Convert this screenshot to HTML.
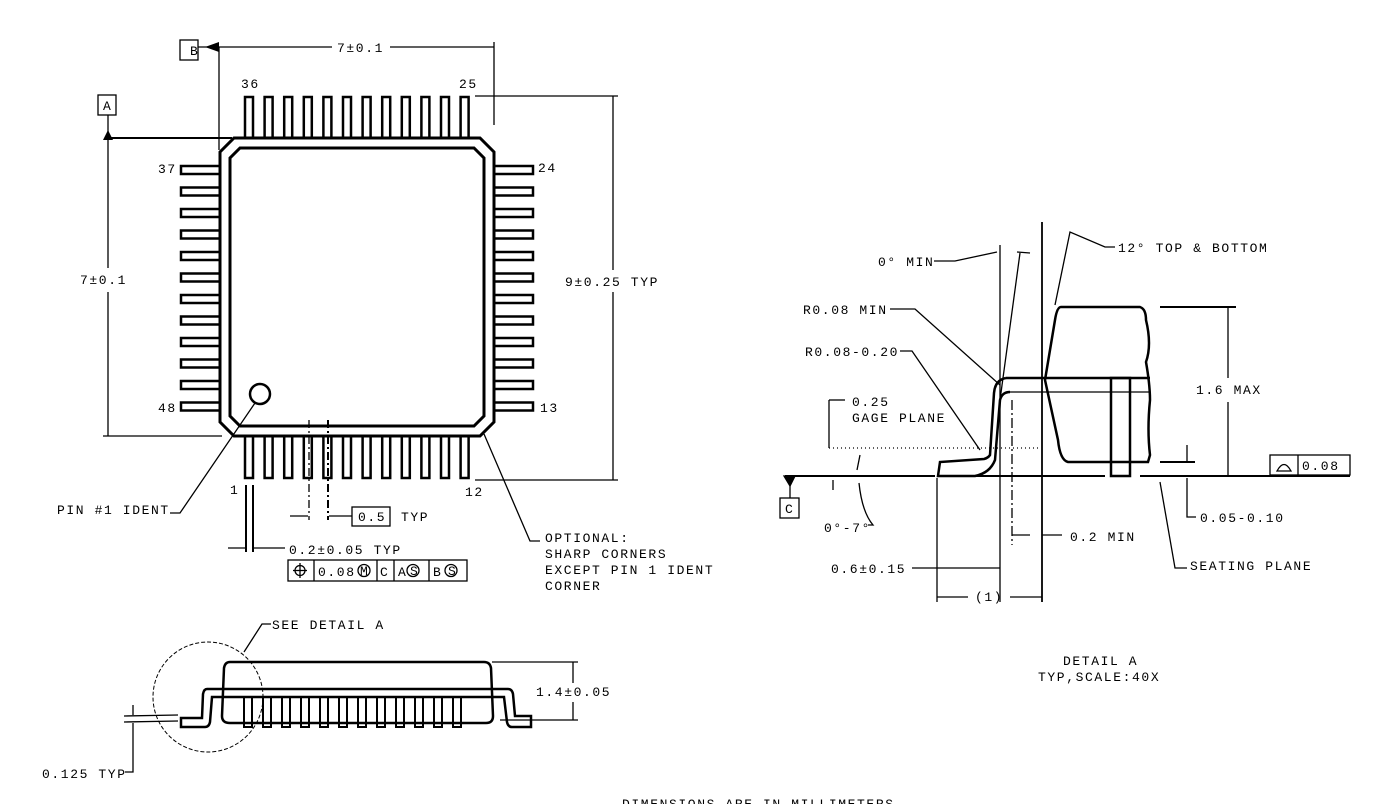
<!DOCTYPE html>
<html><head><meta charset="utf-8"><style>
html,body{margin:0;padding:0;background:#fff;}
svg{display:block}
text{font-family:"Liberation Mono",monospace;font-size:13px;letter-spacing:1.6px;fill:#000}
</style></head><body>
<svg width="1386" height="804" viewBox="0 0 1386 804" xmlns="http://www.w3.org/2000/svg">
<g fill="none" stroke="#000" stroke-width="1.3">
<path d="M234 138 L480 138 L494 152 L494 422 L480 436 L234 436 L220 422 L220 152 Z" stroke-width="3"/>
<path d="M240 148 L474 148 L484 158 L484 416 L474 426 L240 426 L230 416 L230 158 Z" stroke-width="3"/>
<circle cx="260" cy="394" r="10" stroke-width="2.5"/>
<g stroke-width="2.5">
<rect x="245" y="97" width="8" height="41"/><rect x="264.6" y="97" width="8" height="41"/><rect x="284.2" y="97" width="8" height="41"/><rect x="303.8" y="97" width="8" height="41"/><rect x="323.4" y="97" width="8" height="41"/><rect x="343" y="97" width="8" height="41"/><rect x="362.6" y="97" width="8" height="41"/><rect x="382.2" y="97" width="8" height="41"/><rect x="401.8" y="97" width="8" height="41"/><rect x="421.4" y="97" width="8" height="41"/><rect x="441" y="97" width="8" height="41"/><rect x="460.6" y="97" width="8" height="41"/>
<rect x="245" y="436" width="8" height="42"/><rect x="264.6" y="436" width="8" height="42"/><rect x="284.2" y="436" width="8" height="42"/><rect x="303.8" y="436" width="8" height="42"/><rect x="323.4" y="436" width="8" height="42"/><rect x="343" y="436" width="8" height="42"/><rect x="362.6" y="436" width="8" height="42"/><rect x="382.2" y="436" width="8" height="42"/><rect x="401.8" y="436" width="8" height="42"/><rect x="421.4" y="436" width="8" height="42"/><rect x="441" y="436" width="8" height="42"/><rect x="460.6" y="436" width="8" height="42"/>
<rect x="181" y="166" width="39" height="8"/><rect x="181" y="187.5" width="39" height="8"/><rect x="181" y="209" width="39" height="8"/><rect x="181" y="230.5" width="39" height="8"/><rect x="181" y="252" width="39" height="8"/><rect x="181" y="273.5" width="39" height="8"/><rect x="181" y="295" width="39" height="8"/><rect x="181" y="316.5" width="39" height="8"/><rect x="181" y="338" width="39" height="8"/><rect x="181" y="359.5" width="39" height="8"/><rect x="181" y="381" width="39" height="8"/><rect x="181" y="402.5" width="39" height="8"/>
<rect x="494" y="166" width="39" height="8"/><rect x="494" y="187.5" width="39" height="8"/><rect x="494" y="209" width="39" height="8"/><rect x="494" y="230.5" width="39" height="8"/><rect x="494" y="252" width="39" height="8"/><rect x="494" y="273.5" width="39" height="8"/><rect x="494" y="295" width="39" height="8"/><rect x="494" y="316.5" width="39" height="8"/><rect x="494" y="338" width="39" height="8"/><rect x="494" y="359.5" width="39" height="8"/><rect x="494" y="381" width="39" height="8"/><rect x="494" y="402.5" width="39" height="8"/>
</g>
<rect x="180" y="40" width="18" height="20"/>
<line x1="198" y1="47" x2="215" y2="47"/>
<line x1="219" y1="47" x2="332" y2="47"/><line x1="390" y1="47" x2="494" y2="47"/>
<line x1="219" y1="47" x2="219" y2="150"/>
<line x1="494" y1="42" x2="494" y2="125"/>
<rect x="98" y="95" width="18" height="20"/>
<line x1="108" y1="115" x2="108" y2="132"/>
<line x1="108" y1="138" x2="232" y2="138" stroke-width="2"/>
<line x1="108" y1="138" x2="108" y2="268"/><line x1="108" y1="292" x2="108" y2="436"/>
<line x1="103" y1="436" x2="222" y2="436"/>
<line x1="475" y1="96" x2="618" y2="96"/><line x1="475" y1="480" x2="618" y2="480"/>
<line x1="613" y1="96" x2="613" y2="270"/><line x1="613" y1="292" x2="613" y2="480"/>
<line x1="309" y1="420" x2="309" y2="520" stroke-dasharray="8,3,2,3"/>
<line x1="328" y1="420" x2="328" y2="520" stroke-dasharray="8,3,2,3" stroke-width="2"/>
<line x1="290" y1="516" x2="308" y2="516"/><line x1="329" y1="516" x2="352" y2="516"/>
<rect x="352" y="507" width="38" height="19"/>
<line x1="246" y1="485" x2="246" y2="552" stroke-width="2"/><line x1="253" y1="485" x2="253" y2="552" stroke-width="2"/>
<line x1="228" y1="548" x2="245" y2="548"/><line x1="254" y1="548" x2="285" y2="548"/>
<rect x="288" y="560" width="179" height="21"/>
<line x1="314" y1="560" x2="314" y2="581"/><line x1="377" y1="560" x2="377" y2="581"/><line x1="394" y1="560" x2="394" y2="581"/><line x1="429" y1="560" x2="429" y2="581"/>
<circle cx="300" cy="570.5" r="5"/><line x1="300" y1="563" x2="300" y2="578"/><line x1="293" y1="570.5" x2="307" y2="570.5"/>
<circle cx="364" cy="570.5" r="6"/><circle cx="413" cy="570.5" r="6"/><circle cx="451" cy="570.5" r="6"/>
<polyline points="170,513 180,513 255,403"/>
<polyline points="540,541 530,541 484,434"/>
<path d="M230 662 L484 662 Q490 662 491 668 L493 716 Q493 723 486 723 L230 723 Q222 723 222 716 L224 668 Q225 662 230 662 Z" stroke-width="2.5"/>
<path d="M207 689 L508 689 Q512 689 513 694 L515 716 L531 716 L531 727 L512 727 Q508 727 507 722 L504 697 L212 697 L210 722 Q209 727 205 727 L181 727 L181 718 L202 718 L203 694 Q204 689 207 689 Z" stroke-width="2.5"/>
<g stroke-width="2">
<path d="M244 697v30h8v-30M263 697v30h8v-30M282 697v30h8v-30M301 697v30h8v-30M320 697v30h8v-30M339 697v30h8v-30M358 697v30h8v-30M377 697v30h8v-30M396 697v30h8v-30M415 697v30h8v-30M434 697v30h8v-30M453 697v30h8v-30"/>
</g>
<circle cx="208" cy="697" r="55" stroke-dasharray="4,2" stroke-width="1"/>
<polyline points="271,624 262,624 244,652"/>
<line x1="492" y1="662" x2="578" y2="662"/><line x1="500" y1="720" x2="578" y2="720"/>
<line x1="573" y1="662" x2="573" y2="683"/><line x1="573" y1="702" x2="573" y2="720"/>
<line x1="124" y1="716" x2="178" y2="715"/><line x1="124" y1="722" x2="178" y2="721"/>
<line x1="133" y1="705" x2="133" y2="715"/><polyline points="133,723 133,772 125,772"/>
<line x1="785" y1="476" x2="935" y2="476" stroke-width="2"/>
<line x1="975" y1="476" x2="1105" y2="476" stroke-width="2"/>
<line x1="1140" y1="476" x2="1350" y2="476" stroke-width="2"/>
<path d="M784 476 L795 476 L790 486 Z" fill="#000"/>
<line x1="790" y1="486" x2="790" y2="498"/>
<rect x="780" y="498" width="19" height="20"/>
<line x1="1042" y1="222" x2="1042" y2="602" stroke-width="1.8"/>
<line x1="1000" y1="245" x2="1000" y2="602"/>
<line x1="1020" y1="253" x2="1000" y2="400"/>
<line x1="937" y1="478" x2="937" y2="602"/>
<line x1="1012" y1="400" x2="1012" y2="545" stroke-dasharray="10,3,2,3"/>
<path d="M1061 307 L1140 307 Q1146 309 1146 320 Q1152 345 1146 362 Q1150 385 1150 400 Q1147 430 1150 455 L1148 462 L1068 462 Q1060 460 1058 440 L1045 380 L1055 320 Q1057 307 1061 307 Z" stroke-width="2.5"/>
<path d="M1006 378 L1150 378" stroke-width="2.5"/>
<path d="M1010 392 L1150 392"/>
<path d="M1006 378 Q995 380 994 393 L990 455 Q988 458 984 459 L940 462 L938 476 L975 476 Q990 473 995 460 L1000 400 Q1002 392 1010 392" stroke-width="2.5"/>
<rect x="1111" y="378" width="19" height="98" stroke-width="2.5"/>
<line x1="1160" y1="307" x2="1236" y2="307" stroke-width="2"/>
<line x1="1160" y1="462" x2="1195" y2="462" stroke-width="2"/>
<line x1="1228" y1="307" x2="1228" y2="378"/><line x1="1228" y1="402" x2="1228" y2="476"/>
<rect x="1270" y="455" width="80" height="20"/><line x1="1298" y1="455" x2="1298" y2="475"/>
<path d="M1277 471 Q1284 458 1291 471 Z"/>
<line x1="1187" y1="445" x2="1187" y2="462"/><polyline points="1187,478 1187,517 1196,517"/>
<line x1="829" y1="400" x2="829" y2="448"/><line x1="829" y1="400" x2="845" y2="400"/>
<line x1="829" y1="448" x2="1040" y2="448" stroke-dasharray="1,3"/>
<line x1="833" y1="480" x2="833" y2="490"/>
<line x1="860" y1="455" x2="857" y2="470"/>
<path d="M859 483 Q862 512 873 525 L868 525"/>
<polyline points="934,261 955,261 997,252"/>
<line x1="1017" y1="252" x2="1030" y2="253"/>
<polyline points="890,309 915,309 1000,385"/>
<polyline points="900,351 912,351 980,450"/>
<polyline points="1115,247 1105,247 1070,232 1055,305"/>
<line x1="1012" y1="535" x2="1030" y2="535"/><line x1="1042" y1="535" x2="1062" y2="535"/>
<line x1="912" y1="568" x2="1000" y2="568"/>
<line x1="937" y1="597" x2="968" y2="597"/><line x1="1010" y1="597" x2="1042" y2="597"/>
<polyline points="1160,482 1175,568 1187,568"/>
</g>
<g fill="#000">
<path d="M205 47 L219 42 L219 52 Z"/>
<path d="M108 130 L103 140 L113 140 Z"/>
</g>
<text x="190" y="55" font-size="12">B</text>
<text x="103" y="110" font-size="12">A</text>
<text x="337" y="52" letter-spacing="2.5">7±0.1</text>
<text x="80" y="284">7±0.1</text>
<text x="565" y="286">9±0.25 TYP</text>
<text x="241" y="88">36</text><text x="459" y="88">25</text>
<text x="158" y="173">37</text><text x="538" y="172">24</text>
<text x="158" y="412">48</text><text x="540" y="412">13</text>
<text x="230" y="494">1</text><text x="465" y="496">12</text>
<text x="57" y="514">PIN #1 IDENT</text>
<text x="358" y="521">0.5</text><text x="401" y="521">TYP</text>
<text x="289" y="554">0.2±0.05 TYP</text>
<text x="318" y="576" font-size="12">0.08</text><text x="380" y="576" font-size="12">C</text><text x="398" y="576" font-size="12">A</text><text x="433" y="576" font-size="12">B</text>
<text x="360" y="575" font-size="10" letter-spacing="0">M</text><text x="410" y="575" font-size="10" letter-spacing="0">S</text><text x="448" y="575" font-size="10" letter-spacing="0">S</text>
<text x="545" y="542">OPTIONAL:</text>
<text x="545" y="558">SHARP CORNERS</text>
<text x="545" y="574">EXCEPT PIN 1 IDENT</text>
<text x="545" y="590">CORNER</text>
<text x="272" y="629">SEE DETAIL  A</text>
<text x="536" y="696">1.4±0.05</text>
<text x="42" y="778">0.125 TYP</text>
<text x="622" y="808">DIMENSIONS ARE IN MILLIMETERS</text>
<text x="1118" y="252">12° TOP &amp; BOTTOM</text>
<text x="878" y="266">0° MIN</text>
<text x="803" y="314">R0.08 MIN</text>
<text x="805" y="356">R0.08-0.20</text>
<text x="852" y="406">0.25</text>
<text x="852" y="422">GAGE PLANE</text>
<text x="1196" y="394">1.6 MAX</text>
<text x="1302" y="470">0.08</text>
<text x="785" y="513" font-size="12">C</text>
<text x="824" y="532">0°-7°</text>
<text x="1200" y="522">0.05-0.10</text>
<text x="1070" y="541">0.2 MIN</text>
<text x="1190" y="570">SEATING PLANE</text>
<text x="831" y="573">0.6±0.15</text>
<text x="975" y="601">(1)</text>
<text x="1063" y="665">DETAIL A</text>
<text x="1038" y="681">TYP,SCALE:40X</text>
</svg>
</body></html>
